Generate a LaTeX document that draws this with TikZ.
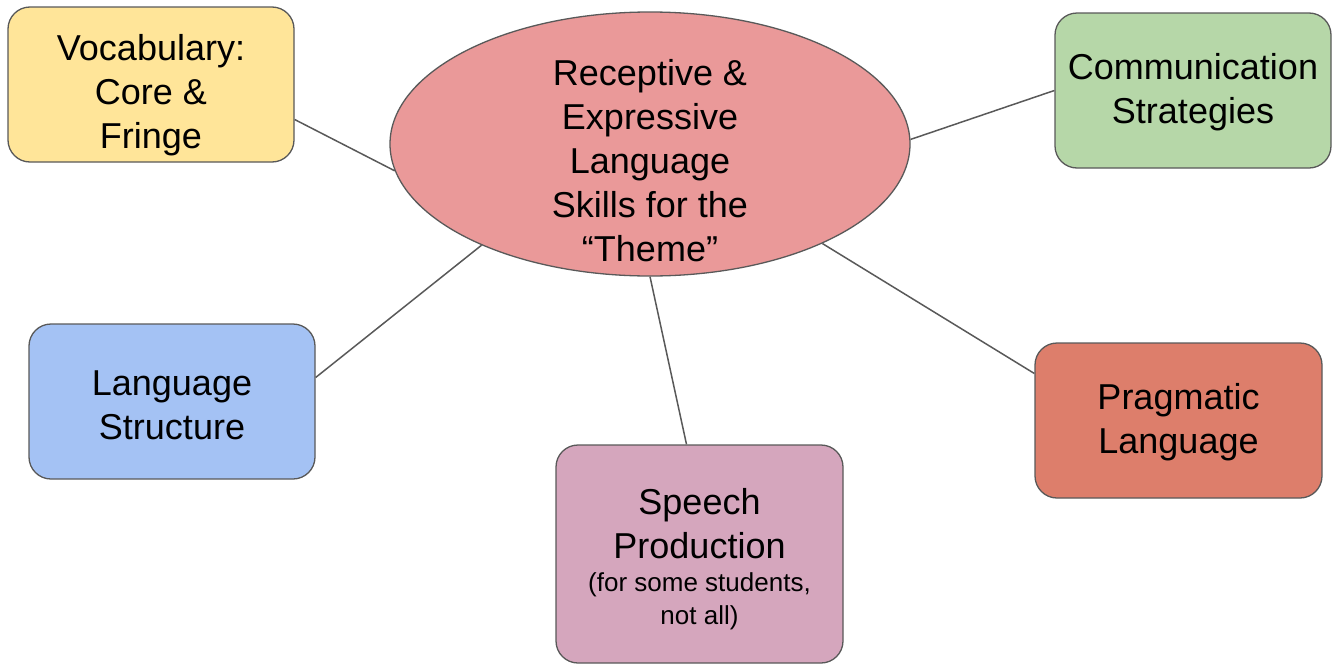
\documentclass[tikz,border=0pt]{standalone}
\usepackage{fontspec}
\setmainfont{Liberation Sans}
\usetikzlibrary{shapes.geometric}
\definecolor{edgegray}{HTML}{595959}
\definecolor{hubred}{HTML}{EA9999}
\definecolor{vocabyellow}{HTML}{FFE599}
\definecolor{commgreen}{HTML}{B6D7A8}
\definecolor{structblue}{HTML}{A4C2F4}
\definecolor{speechpink}{HTML}{D5A6BD}
\definecolor{pragred}{HTML}{DD7E6B}
\newcommand\smalltxt{\fontsize{26}{32}\selectfont}
\begin{document}
\begin{tikzpicture}[
x=1pt,y=-1pt,
hub/.style={ellipse,draw=edgegray,line width=1.3pt,fill=hubred,minimum width=520,minimum height=264,inner sep=0},
hubtext/.style={align=center,font=\fontsize{36}{44}\selectfont,inner sep=0},
topic/.style={rectangle,rounded corners=22,draw=edgegray,line width=1.3pt,align=center,font=\fontsize{36}{44}\selectfont,inner sep=0,minimum width=286,minimum height=155},
link/.style={edgegray,line width=1.5pt},
]
\useasboundingbox(0,0)rectangle(1332,664);

%topics
\node[topic,fill=vocabyellow](vocab)at(151,84.5){\rule{0pt}{48pt}Vocabulary:\\Core \&\\Fringe};
\node[topic,fill=commgreen,minimum width=276](comm)at(1193,90.5){\rule{0pt}{30pt}Communication\\Strategies};
\node[topic,fill=structblue](struct)at(172,401.5){\rule{0pt}{32pt}Language\\Structure};
\node[topic,fill=speechpink,minimum width=287,minimum height=218](speech)at(699.5,554){\rule{0pt}{36pt}Speech\\Production\\[-11pt]{\smalltxt (for some students,}\\[-11pt]{\smalltxt not all)}};
\node[topic,fill=pragred,minimum width=287](prag)at(1178.5,420.5){\rule{0pt}{30pt}Pragmatic\\Language};

%hub
\node[hub](theme)at(650,144){};
\node[hubtext](themetext)at([yshift=-17pt]theme.center){Receptive \&\\Expressive\\Language\\Skills for the\\``Theme''};

%links
\draw[link]([yshift=-35pt]vocab.east)--(theme.186);
\draw[link](theme.1)--(comm.west);
\draw[link]([yshift=24pt]struct.east)--(theme.211);
\draw[link](theme.270)--([xshift=-13pt]speech.north);
\draw[link](theme.330)--([yshift=47pt]prag.west);

\end{tikzpicture}
\end{document}
